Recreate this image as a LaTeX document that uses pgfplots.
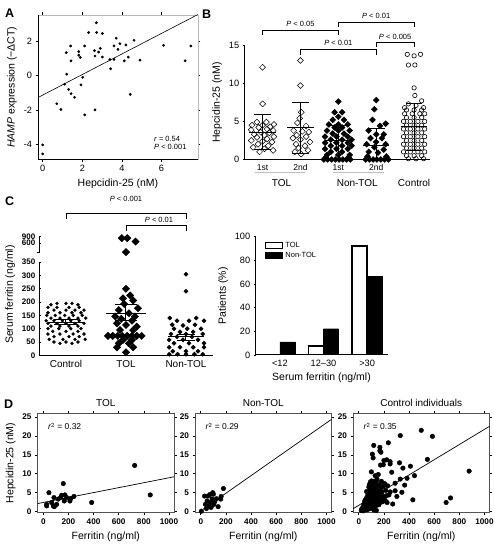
\documentclass[border=0pt]{standalone}
\usepackage{fontspec}
\setmainfont{Liberation Sans}
\usepackage{pgfplots}
\pgfplotsset{compat=1.18}
\pgfplotsset{
  base/.style={scale only axis, anchor=south west,
    /pgf/number format/assume math mode=true,
    /pgf/number format/1000 sep={},
    tick align=outside, major tick length=2.5pt,
    tick label style={font=\fontsize{9.2}{10}\selectfont},
    label style={font=\fontsize{10.5}{12}\selectfont},
    every tick/.style={black, line width=0.6pt},
  },
  dpanel/.style={base, width=136.5pt, height=99.4pt, xmin=-46, xmax=1040, ymin=-0.3, ymax=26,
    xtick={0,200,...,1000}, ytick={0,5,...,25},
    tick label style={font=\bfseries\fontsize{8.2}{9}\selectfont},
    axis line style={gray!65!black, line width=0.6pt},
    title style={font=\fontsize{10}{12}\selectfont, yshift=-3pt},
    xlabel={Ferritin (ng/ml)},
  },
}
\begin{document}
\begin{tikzpicture}
\path[use as bounding box] (0,0) rectangle (494pt,551pt);
% panel letters
\node[font=\bfseries\fontsize{12.5}{13}\selectfont, anchor=north west, inner sep=0pt] at (5pt,542pt) {A};
\node[font=\bfseries\fontsize{12.5}{13}\selectfont, anchor=north west, inner sep=0pt] at (202pt,541pt) {B};
\node[font=\bfseries\fontsize{12.5}{13}\selectfont, anchor=north west, inner sep=0pt] at (5pt,354pt) {C};
\node[font=\bfseries\fontsize{12.5}{13}\selectfont, anchor=north west, inner sep=0pt] at (4pt,151pt) {D};

% ---------------- Panel A
\begin{axis}[base, at={(38pt,391.7pt)}, width=160pt, height=144.3pt,
  xmin=-0.237, xmax=7.84, ymin=-4.84, ymax=3.5,
  xtick={0,2,4,6}, ytick={-4,-2,0,2},
  axis line style={gray!55, line width=0.8pt},
  xlabel={Hepcidin-25 (nM)}, ylabel={\textit{HAMP} expression (−ΔCT)}]
\addplot[only marks, mark=*, mark size=1.2pt, black] coordinates {
(0,-4.01)(0,-4.53)
(0.71,-1.63)(0.92,-1.96)(1.11,-0.50)(1.21,0.08)(1.19,1.32)(1.31,-0.80)(1.43,-1.05)(1.41,1.71)(1.43,0.85)(1.61,-1.26)
(1.82,1.38)(1.82,1.18)(1.90,1.05)(1.93,-0.54)(2.02,-0.10)(2.12,1.71)(2.12,-2.27)(2.32,2.49)(2.62,1.44)(2.64,1.13)
(2.64,-1.98)(2.71,3.05)(2.72,2.49)(2.82,1.36)(2.91,1.57)(3.01,2.43)(3.01,1.07)(3.39,0.93)(3.43,0.39)(3.60,0.93)
(3.60,1.71)(3.71,2.16)(3.80,1.51)(3.90,1.84)(4.12,0.85)(4.20,1.77)(4.32,1.07)(4.42,-1.09)(4.61,2.04)(4.91,0.89)
(6.10,1.75)(7.19,0.85)(7.48,1.71)};
\addplot[black, line width=0.6pt] coordinates {(-0.237,-1.27) (7.84,3.53)};
\draw[black, line width=0.8pt] (rel axis cs:0,1) -- (rel axis cs:0,0) -- (rel axis cs:1,0);
\node[font=\fontsize{7.5}{8}\selectfont, anchor=west] at (axis cs:5.45,-3.66) {\textit{r} = 0.54};
\node[font=\fontsize{7.5}{8}\selectfont, anchor=west] at (axis cs:5.45,-4.13) {\textit{P} < 0.001};
\end{axis}

% ---------------- Panel B
\begin{axis}[base, at={(244pt,391.5pt)}, width=186pt, height=114.3pt,
  xmin=-0.49, xmax=4.42, ymin=0, ymax=15,
  axis lines=left, axis line style={-, line width=1pt},
  xtick={0,1,2,3}, xticklabels={1st,2nd,1st,2nd}, x tick style={draw=none},
  x tick label style={font=\fontsize{8.5}{9}\selectfont},
  ytick={0,5,10,15}, ylabel={Hepcidin-25 (nM)}, clip=false]
% TOL 1st
\addplot[only marks, black, mark=square, mark size=2.1pt, mark options={rotate=45, fill=white, line width=0.5pt}] coordinates {
(0,12.1)(0,7.3)(-0.15,4.9)(0.1,4.9)(0.3,4.6)(-0.28,4.5)(0.0,4.5)(0.2,4.3)(-0.1,4.2)(0.12,4.0)(-0.3,3.9)(0.28,3.8)
(-0.05,3.6)(0.18,3.5)(-0.22,3.3)(0.05,3.2)(0.3,3.0)(-0.15,2.9)(0.12,2.7)(-0.3,2.5)(0.0,2.4)(0.25,2.3)(-0.12,2.0)
(0.15,1.8)(-0.25,1.6)(0.05,1.4)(0.28,1.2)(-0.08,1.0)};
% TOL 2nd
\addplot[only marks, black, mark=square, mark size=2.1pt, mark options={rotate=45, fill=white, line width=0.5pt}] coordinates {
(1.0,13.0)(1.0,9.7)(1.02,6.2)(0.98,5.4)(0.92,4.8)(1.15,4.4)(0.82,3.8)(1.05,3.7)(1.22,3.6)(0.9,3.2)(1.15,3.0)
(0.8,2.8)(1.0,2.6)(1.25,2.3)(0.88,2.0)(1.12,1.8)(0.95,1.5)(1.2,1.2)(0.85,1.0)(1.02,0.7)};
% Non-TOL 1st
\addplot[only marks, black, mark=square*, mark size=2.1pt, mark options={rotate=45}] coordinates {
(2.0,7.6)(1.9,6.2)(2.1,6.2)(2.0,5.6)(1.85,5.2)(2.15,5.2)(2.0,4.6)(1.75,4.6)(2.25,4.6)(1.9,4.2)(2.1,4.2)(1.7,3.8)
(2.0,3.8)(2.3,3.8)(1.85,3.4)(2.15,3.4)(1.65,3.0)(1.95,3.0)(2.25,3.0)(1.8,2.6)(2.1,2.6)(2.35,2.6)(1.65,2.2)(1.95,2.2)
(2.25,2.2)(1.8,1.8)(2.1,1.8)(2.35,1.8)(1.65,1.4)(1.95,1.4)(2.25,1.4)(1.8,1.0)(2.1,1.0)(1.7,0.6)(2.0,0.6)(2.3,0.6)
(1.62,0)(1.72,0)(1.82,0)(1.92,0)(2.02,0)(2.12,0)(2.22,0)(2.32,0)(1.67,0.3)(2.27,0.3)};
% Non-TOL 2nd
\addplot[only marks, black, mark=square*, mark size=2.1pt, mark options={rotate=45}] coordinates {
(3.0,7.8)(2.95,6.6)(2.9,5.2)(3.25,4.7)(3.1,4.4)(2.8,3.8)(3.0,3.3)(3.2,3.3)(2.85,2.8)(3.15,2.8)(3.0,2.3)(2.75,2.0)
(3.25,2.0)(2.95,1.6)(3.2,1.3)(2.8,1.0)(3.05,0.9)(2.72,0)(2.82,0)(2.92,0)(3.02,0)(3.12,0)(3.22,0)(3.32,0)(2.77,0.4)(3.27,0.4)};
% Control
\addplot[only marks, black, mark=o, mark size=2.2pt, mark options={line width=0.6pt}] coordinates {
(3.82,13.8)(4.0,13.6)(4.17,13.8)(3.85,12.4)(4.02,12.4)(4.0,9.4)(4.02,8.4)(4.2,7.7)(3.85,7.3)(4.05,7.1)(3.75,6.8)(4.25,6.8)
(3.8,6.5)(4.0,6.5)(4.2,6.5)(3.75,6.0)(3.95,6.0)(4.15,6.0)(4.28,6.0)(3.8,5.5)(4.0,5.5)(4.2,5.5)
(3.72,5.0)(3.9,5.0)(4.1,5.0)(4.28,5.0)(3.8,4.5)(4.0,4.5)(4.2,4.5)(3.72,4.0)(3.9,4.0)(4.1,4.0)(4.28,4.0)
(3.8,3.5)(4.0,3.5)(4.2,3.5)(3.72,3.0)(3.9,3.0)(4.1,3.0)(4.28,3.0)(3.8,2.5)(4.0,2.5)(4.2,2.5)
(3.72,2.0)(3.9,2.0)(4.1,2.0)(4.28,2.0)(3.8,1.5)(4.0,1.5)(4.2,1.5)(3.72,1.0)(3.9,1.0)(4.1,1.0)(4.28,1.0)
(3.8,0.5)(4.0,0.5)(4.2,0.5)(3.85,0.1)(4.05,0.1)(4.25,0.1)};
% mean and SD
\addplot[black, line width=0.8pt, unbounded coords=jump] coordinates {
(-0.35,3.62)(0.35,3.62)(nan,nan)(0,1.35)(0,5.9)(nan,nan)(-0.22,5.9)(0.22,5.9)(nan,nan)(-0.22,1.35)(0.22,1.35)(nan,nan)
(0.65,4.24)(1.35,4.24)(nan,nan)(1,0.79)(1,7.55)(nan,nan)(0.78,7.55)(1.22,7.55)(nan,nan)(0.78,0.79)(1.22,0.79)(nan,nan)
(1.65,2.49)(2.35,2.49)(nan,nan)(2,0.5)(2,4.5)(nan,nan)(1.78,4.5)(2.22,4.5)(nan,nan)
(2.65,1.88)(3.35,1.88)(nan,nan)(3,0)(3,4.1)(nan,nan)(2.78,4.1)(3.22,4.1)(nan,nan)
(3.65,4.32)(4.35,4.32)(nan,nan)(4,1.2)(4,7.42)(nan,nan)(3.78,7.42)(4.22,7.42)(nan,nan)(3.78,1.2)(4.22,1.2)};
% brackets
\draw[line width=0.7pt] (axis cs:0,16.38) -- (axis cs:0,16.94) -- (axis cs:2,16.94) -- (axis cs:2,16.38);
\draw[line width=0.7pt] (axis cs:2,17.38) -- (axis cs:2,18.03) -- (axis cs:4,18.03) -- (axis cs:4,17.38);
\draw[line width=0.7pt] (axis cs:1,13.67) -- (axis cs:1,14.41) -- (axis cs:3,14.41) -- (axis cs:3,13.67);
\draw[line width=0.7pt] (axis cs:3,14.76) -- (axis cs:3,15.41) -- (axis cs:4,15.41) -- (axis cs:4,14.76);
\node[font=\fontsize{7.5}{8}\selectfont] at (axis cs:1,17.8) {\textit{P} < 0.05};
\node[font=\fontsize{7.5}{8}\selectfont] at (axis cs:3,18.9) {\textit{P} < 0.01};
\node[font=\fontsize{7.5}{8}\selectfont] at (axis cs:2,15.3) {\textit{P} < 0.01};
\node[font=\fontsize{7.5}{8}\selectfont] at (axis cs:3.5,16.07) {\textit{P} < 0.005};
% group labels
\draw[gray!50, line width=1pt] (axis cs:-0.2,-1.77) -- (axis cs:1.12,-1.77);
\draw[gray!50, line width=1pt] (axis cs:1.86,-1.77) -- (axis cs:3.21,-1.77);
\node[font=\fontsize{10}{12}\selectfont] at (axis cs:0.5,-3.08) {TOL};
\node[font=\fontsize{10}{12}\selectfont] at (axis cs:2.5,-3.08) {Non-TOL};
\node[font=\fontsize{10}{12}\selectfont] at (axis cs:4,-3.08) {Control};
\end{axis}

% ---------------- Panel C left
\begin{axis}[base, at={(40pt,195.7pt)}, width=173pt, height=121.3pt,
  xmin=-0.433, xmax=2.45, ymin=0, ymax=456,
  axis x line=bottom, axis y line=left, axis line style={-, line width=1pt}, y axis line style={draw=none},
  xtick={0,1,2}, xticklabels={Control,TOL,Non-TOL}, x tick style={draw=none},
  x tick label style={font=\fontsize{10}{12}\selectfont},
  ytick={0,50,100,150,200,250,300,350,421.5,446.4}, yticklabels={0,50,100,150,200,250,300,350,600,900},
  y tick label style={font=\bfseries\fontsize{8}{9}\selectfont},
  ylabel={Serum ferritin (ng/ml)}, clip=false]
\addplot[only marks, black, mark=*, mark size=1.5pt] coordinates {
(-0.15,195)(0.0,195)(0.1,195)(-0.25,190)(0.2,190)(-0.3,180)(-0.15,180)(0.05,180)(0.22,180)
(-0.2,170)(0.0,170)(0.15,170)(0.3,170)(-0.3,160)(-0.1,160)(0.1,160)(0.25,160)
(-0.32,150)(-0.18,150)(-0.02,150)(0.12,150)(0.27,150)(-0.25,140)(-0.1,140)(0.05,140)(0.2,140)(0.33,140)
(-0.33,130)(-0.2,130)(-0.06,130)(0.08,130)(0.22,130)(-0.3,120)(-0.15,120)(0.0,120)(0.15,120)(0.3,120)
(-0.25,110)(-0.1,110)(0.05,110)(0.2,110)(-0.3,100)(-0.12,100)(0.08,100)(0.25,100)(-0.22,90)(0.0,90)(0.2,90)
(-0.3,80)(-0.1,80)(0.12,80)(0.3,80)(-0.2,70)(0.05,70)(0.22,70)(-0.28,60)(-0.05,60)(0.15,60)(0.32,60)
(-0.2,50)(0.0,50)(0.2,50)(-0.1,45)(0.1,45)};
\addplot[only marks, black, mark=square*, mark size=2.6pt, mark options={rotate=45}] coordinates {
(0.93,440.4)(1.02,440.4)(1.16,427.6)(1.0,387.7)(1.0,250)(1.07,225)(0.95,214)(1.12,206)(0.97,193)(1.2,177)(0.88,170)
(1.05,158)(0.82,146)(1.15,146)(0.92,137)(1.1,130)(0.85,120)(1.0,114)(1.18,108)(0.9,95)(1.12,95)
(0.7,73)(0.78,73)(0.86,73)(0.94,73)(1.02,73)(1.1,73)(1.18,73)(1.26,73)
(0.95,58)(1.1,58)(0.88,45)(1.05,45)(0.85,30)(1.12,30)(1.0,11)};
\addplot[only marks, black, mark=square*, mark size=1.5pt, mark options={rotate=45}] coordinates {
(2.0,305)(2.0,241)(1.73,140)(2.17,140)(1.85,130)(2.05,130)(2.3,130)(1.77,115)(1.95,112)(2.15,115)(1.8,100)(2.02,100)
(2.25,100)(1.9,88)(2.12,88)(1.75,80)(2.0,80)(2.28,80)(1.85,70)(2.1,70)(1.72,58)(1.95,58)(2.2,58)(1.8,45)(2.05,45)
(2.3,45)(1.72,30)(1.9,30)(2.12,30)(2.3,30)(1.78,15)(2.0,15)(2.2,15)(1.72,4)(1.86,4)(2.0,4)(2.14,4)(2.28,4)};
\addplot[black, line width=1pt, unbounded coords=jump] coordinates {
(-0.3,124)(0.3,124)(nan,nan)(0,114)(0,133)(nan,nan)(-0.2,133)(0.2,133)(nan,nan)(-0.2,114)(0.2,114)(nan,nan)
(0.66,159)(1.34,159)(nan,nan)(1,130)(1,190)(nan,nan)(0.82,190)(1.18,190)(nan,nan)(0.82,130)(1.18,130)(nan,nan)
(1.7,69)(2.3,69)(nan,nan)(2,57)(2,80)(nan,nan)(1.85,80)(2.15,80)(nan,nan)(1.85,57)(2.15,57)};
\draw[line width=1pt] (axis cs:-0.433,0) -- (axis cs:-0.433,350);
\draw[line width=1pt] (axis cs:-0.48,386) -- (axis cs:-0.433,386) -- (axis cs:-0.433,449);
\draw[line width=0.7pt] (axis cs:0,512) -- (axis cs:0,534.5) -- (axis cs:2,534.5) -- (axis cs:2,512);
\draw[line width=0.7pt] (axis cs:1,469) -- (axis cs:1,487.8) -- (axis cs:2,487.8) -- (axis cs:2,469);
\node[font=\fontsize{7.5}{8}\selectfont] at (axis cs:1,588) {\textit{P} < 0.001};
\node[font=\fontsize{7.5}{8}\selectfont] at (axis cs:1.55,509) {\textit{P} < 0.01};
\end{axis}

% ---------------- Panel C right
\begin{axis}[base, at={(255pt,196pt)}, width=133pt, height=118.3pt,
  ybar=0pt, bar width=0.345, xmin=-0.57, xmax=2.48, ymin=0, ymax=100,
  axis lines=left, axis line style={-, line width=1pt},
  xtick={0,1,2}, xticklabels={<12,12–30,>30}, x tick style={draw=none},
  ytick={0,20,...,100}, ylabel={Patients (\%)}, xlabel={Serum ferritin (ng/ml)},
  legend style={draw=none, fill=none, at={(0.05,0.99)}, anchor=north west,
    font=\fontsize{7.5}{8}\selectfont, row sep=-1pt},
  legend cell align=left]
\addplot[draw=black, fill=white, line width=1.5pt, area legend] coordinates {(0,0)(1,7.7)(2,92.3)};
\addplot[draw=black, fill=black, area legend] coordinates {(0,11.1)(1,22.2)(2,66.7)};
\legend{TOL,Non-TOL}
\end{axis}

% ---------------- Panel D
\begin{axis}[dpanel, at={(37.5pt,38.3pt)}, title={TOL}, ylabel={Hepcidin-25 (nM)}]
\addplot[only marks, black, mark=*, mark size=2.3pt] coordinates {
(27,1.9)(27,1.5)(45,5.0)(66,2.4)(80,1.5)(85,3.7)(88,1.3)(106,1.9)(119,3.3)(138,3.7)(146,4.3)(159,7.4)(167,2.8)
(172,4.4)(186,3.7)(212,2.8)(220,3.5)(244,4.0)(385,2.4)(727,12.2)(851,4.4)};
\addplot[black, line width=0.7pt] coordinates {(-46,2.11)(1040,9.2)};
\node[font=\fontsize{8.5}{10}\selectfont, anchor=west] at (axis cs:10,22.5) {\textit{r}\textsuperscript{2} = 0.32};
\end{axis}
\begin{axis}[dpanel, at={(195pt,38.3pt)}, title={Non-TOL}]
\addplot[only marks, black, mark=*, mark size=2.3pt] coordinates {
(5,0.1)(30,4.1)(37,1.9)(50,2.8)(56,4.1)(64,1.5)(72,4.5)(77,2.4)(82,1.1)(90,3.3)(95,5.0)(103,1.9)(111,2.6)
(125,3.4)(138,1.3)(159,3.3)(162,4.0)(180,6.1)(45,0.8)(100,4.6)};
\addplot[black, line width=0.7pt] coordinates {(-15,-0.15)(1040,24.4)};
\node[font=\fontsize{8.5}{10}\selectfont, anchor=west] at (axis cs:10,22.5) {\textit{r}\textsuperscript{2} = 0.29};
\end{axis}
\begin{axis}[dpanel, at={(353pt,38.3pt)}, title={Control individuals}]
\addplot[only marks, black, mark=*, mark size=2.3pt] coordinates {
(20,0.3)(25,0.8)(30,0.5)(35,1.2)(35,0.2)(40,1.8)(40,0.6)(45,2.5)(45,1.0)(50,0.4)(50,3.0)(55,1.5)(55,2.2)(60,0.8)
(60,3.5)(62,5.3)(65,2.8)(65,1.2)(70,4.2)(70,0.5)(72,2.0)(75,3.2)(75,5.0)(78,1.5)(80,6.5)(80,2.6)(82,4.0)(85,7.2)
(85,1.0)(88,3.5)(90,5.6)(90,2.2)(92,7.8)(95,4.6)(95,0.8)(98,3.0)(100,6.0)(100,1.8)(102,8.1)(105,4.0)(105,2.8)
(108,5.2)(110,7.0)(110,1.2)(112,3.6)(115,6.5)(115,2.4)(118,8.0)(120,4.5)(120,0.4)(122,5.8)(125,3.0)(125,7.5)
(128,2.0)(130,9.5)(130,4.2)(135,6.2)(135,1.5)(138,3.4)(140,7.8)(140,5.0)(145,2.6)(145,8.6)(150,4.0)(150,6.8)
(155,3.0)(155,9.8)(160,5.4)(160,1.8)(165,7.0)(170,4.4)(170,2.4)(175,6.0)(180,8.0)(180,3.4)(185,5.2)(190,2.6)
(195,6.6)(200,4.0)(205,7.4)(210,3.0)(215,5.6)(220,4.2)(230,6.8)(240,4.4)(250,5.2)(225,2.4)(140,0.3)(270,2.0)
(119,17.5)(168,17.0)(168,16.1)(176,15.7)(108,15.2)(114,14.2)(546,13.8)(200,13.5)(222,13.7)(249,13.2)(249,12.6)
(324,12.9)(195,12.4)(173,12.3)(262,10.4)(411,12.0)(351,11.5)(100,10.5)(384,8.8)(443,9.5)(878,10.7)(330,8.6)
(365,7.0)(289,7.5)(289,5.5)(303,4.0)(343,5.1)(430,3.1)(695,2.4)(730,3.6)(497,21.5)(586,19.9)(330,20.1)(235,18.2)};
\addplot[black, line width=0.7pt] coordinates {(-46,0.74)(1040,22.56)};
\node[font=\fontsize{8.5}{10}\selectfont, anchor=west] at (axis cs:10,22.5) {\textit{r}\textsuperscript{2} = 0.35};
\end{axis}
\end{tikzpicture}
\end{document}
